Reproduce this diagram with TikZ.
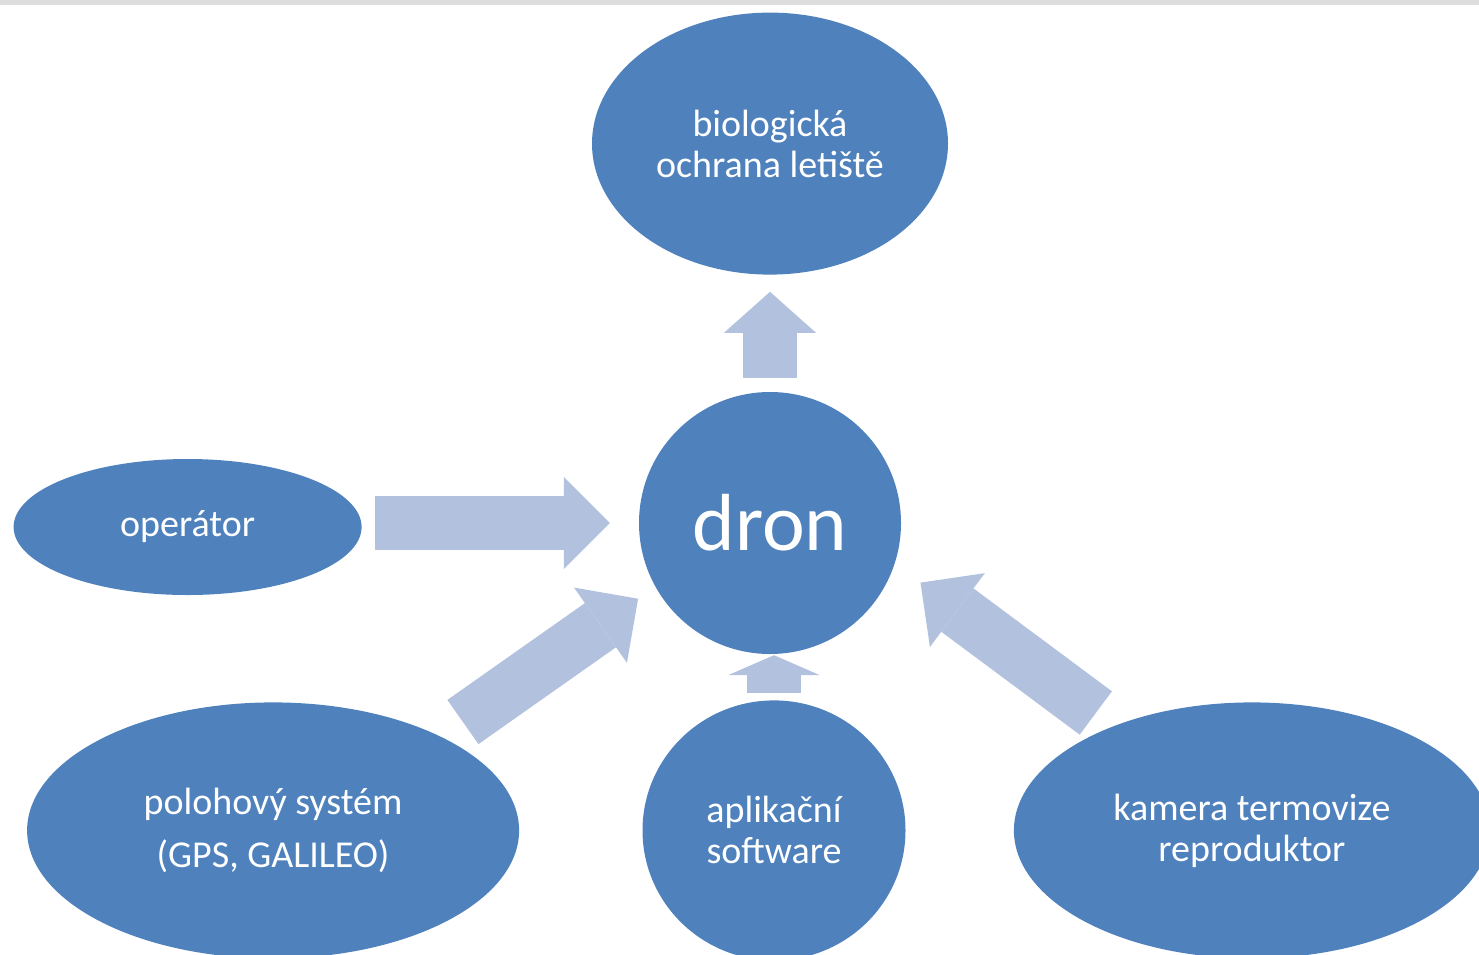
\documentclass[tikz,border=0pt]{standalone}
\usepackage{fontspec}
\setmainfont{Carlito}
\usetikzlibrary{positioning, arrows.meta, shapes.geometric}

\definecolor{ellblue}{RGB}{79,129,189}
\definecolor{arrblue}{RGB}{178,193,222}
\definecolor{bargray}{RGB}{221,221,221}

\begin{document}
\begin{tikzpicture}[x=1pt, y=-1pt,
		bubble/.style={ellipse, fill=ellblue, inner sep=0pt, text=white, align=center, font=\fontsize{38}{41}\selectfont},
		blockarrow/.style={draw=arrblue, line width=54pt, -{Triangle[length=#1, width=92pt, line width=0pt]}},
		blockarrow/.default=46pt
	]

	\useasboundingbox (0,0) rectangle (1479,954);
	\fill[bargray] (0,0) rectangle (1479,5);

	\node[bubble, minimum width=262pt, minimum height=262pt, font=\fontsize{81}{90}\selectfont] (dron) at (770,523) {dron};
	\node[bubble, minimum width=356pt, minimum height=262pt, above=117pt of dron] (bio) {biologická\\ochrana letiště};
	\node[bubble, minimum width=348pt, minimum height=136pt, left=277pt of dron, yshift=-4pt] (op) {operátor};
	\node[bubble, minimum width=263pt, minimum height=260pt, below=46pt of dron, xshift=4pt] (app) {aplikační\\software};
	\node[bubble, minimum width=492pt, minimum height=256pt, left=123pt of app] (polo) {polohový systém\\[12pt](GPS, GALILEO)};
	\node[bubble, minimum width=476pt, minimum height=256pt, right=108pt of app] (kam) {kamera termovize\\reproduktor};

	\draw[blockarrow=41pt, shorten <=14pt, shorten >=17pt] (dron) -- (bio);
	\draw[blockarrow, shorten <=13pt, shorten >=29pt] (op.east |- dron.west) -- (dron.west);
	\draw[blockarrow=20pt, shorten <=7pt, shorten >=1pt] (app.north) -- (app.north |- dron.south);
	\draw[blockarrow, shorten <=26pt, shorten >=21pt] (polo.29) -- (dron.209);
	\draw[blockarrow, shorten <=22pt, shorten >=32pt] (kam.143) -- (dron.-18);

\end{tikzpicture}
\end{document}
